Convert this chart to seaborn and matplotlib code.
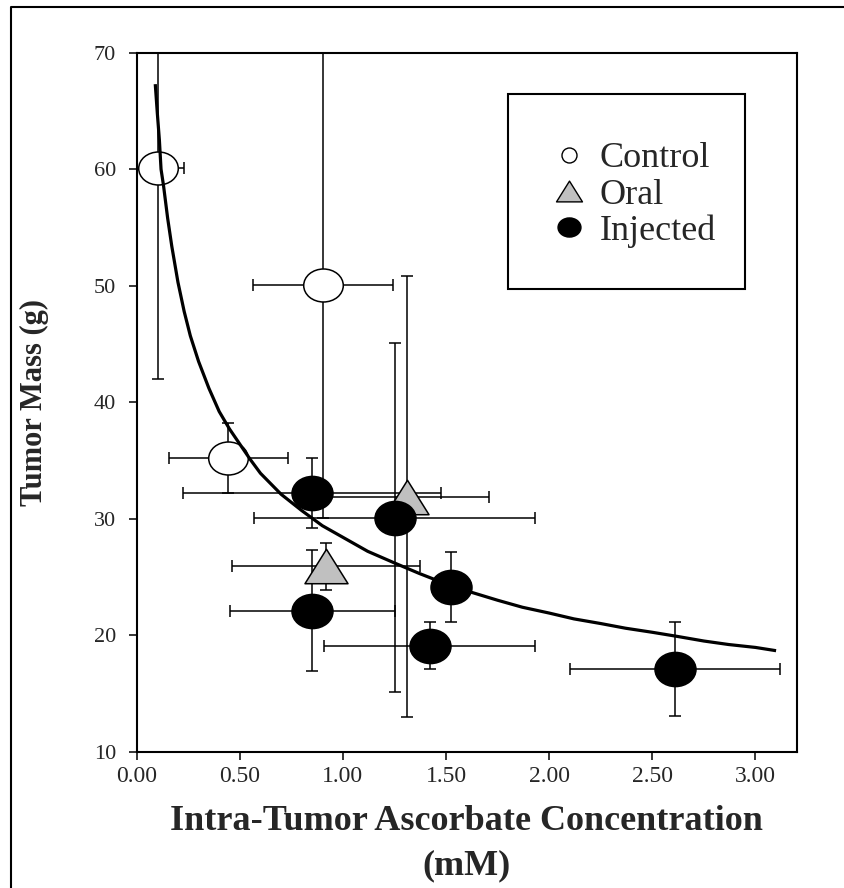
import numpy as np
import pandas as pd
import matplotlib
matplotlib.use("Agg")
import matplotlib.pyplot as plt
from matplotlib.path import Path
from matplotlib.lines import Line2D
from matplotlib.patches import Rectangle
import seaborn as sns

# ---------------- data ----------------
control_x = [0.105, 0.905, 0.445]
control_y = [60.1, 50.1, 35.2]
control_xerr = [0.125, 0.34, 0.287]
control_yerr = [18.1, 20.0, 3.0]

oral_x = [0.917, 1.31]
oral_y = [25.9, 31.9]
oral_xerr = [0.455, 0.40]
oral_yerr = [2.0, 18.9]

injected_x = [0.85, 1.25, 0.85, 1.523, 1.42, 2.61]
injected_y = [32.2, 30.1, 22.1, 24.1, 19.1, 17.1]
injected_xerr = [0.625, 0.68, 0.40, 0.0, 0.51, 0.51]
injected_yerr = [3.0, 15.0, 5.2, 3.0, 2.0, 4.0]

curve_x = [0.09, 0.10, 0.11, 0.118, 0.13, 0.15, 0.17, 0.20, 0.23, 0.26, 0.30,
           0.35, 0.40, 0.45, 0.50, 0.55, 0.60, 0.70, 0.80, 0.90, 1.00, 1.12,
           1.25, 1.37, 1.50, 1.62, 1.75, 1.87, 2.00, 2.12, 2.25, 2.37, 2.50,
           2.62, 2.75, 2.87, 3.00, 3.10]
curve_y = [67.3, 64.8, 62.5, 60.0, 58.6, 55.8, 53.4, 50.3, 47.8, 45.7, 43.5,
           41.2, 39.2, 37.7, 36.4, 35.1, 33.9, 32.1, 30.7, 29.4, 28.4, 27.2,
           26.2, 25.3, 24.4, 23.7, 23.0, 22.4, 21.9, 21.4, 21.0, 20.6, 20.25,
           19.9, 19.5, 19.2, 18.95, 18.67]

x_ticks = [0.0, 0.5, 1.0, 1.5, 2.0, 2.5, 3.0]
x_ticklabels = ["0.00", "0.50", "1.00", "1.50", "2.00", "2.50", "3.00"]
y_ticks = [10, 20, 30, 40, 50, 60, 70]
group_names = ["Control", "Oral", "Injected"]

# ---------------- style ----------------
sns.set_theme(style="ticks")
plt.rcParams["font.family"] = ["Liberation Serif", "DejaVu Serif"]
plt.rcParams["axes.linewidth"] = 1.5

fig = plt.figure(figsize=(8.44, 8.88), dpi=100)
ax = fig.add_axes([136.7 / 844, 1 - 751.7 / 888, 660 / 844, 699 / 888])

# marker shapes
circ = Path.unit_circle()
ellipse = Path(circ.vertices * np.array([1.2, 1.0]), circ.codes)
triangle = Path([(-0.625, -0.5), (0.625, -0.5), (0.0, 0.5), (-0.625, -0.5)],
                [Path.MOVETO, Path.LINETO, Path.LINETO, Path.CLOSEPOLY])

groups = [
    (group_names[0], control_x, control_y, control_xerr, control_yerr, ellipse, "white", 28.5),
    (group_names[1], oral_x, oral_y, oral_xerr, oral_yerr, triangle, "#c0c0c0", 31.0),
    (group_names[2], injected_x, injected_y, injected_xerr, injected_yerr, ellipse, "black", 29.5),
]

# error bars
for name, xs, ys, xe, ye, mk, fc, ms in groups:
    ax.errorbar(xs, ys, xerr=xe, yerr=ye, fmt="none", ecolor="black",
                elinewidth=1.1, capsize=4.5, capthick=1.1, zorder=2)

# markers
for name, xs, ys, xe, ye, mk, fc, ms in groups:
    df = pd.DataFrame({"x": xs, "y": ys})
    sns.scatterplot(data=df, x="x", y="y", marker=mk, s=ms ** 2, color=fc,
                    edgecolor="black", linewidth=1.1, ax=ax, zorder=3,
                    legend=False)

# fitted curve
sns.lineplot(x=curve_x, y=curve_y, sort=False, color="black", linewidth=2.3,
             ax=ax, zorder=4, solid_joinstyle="round", solid_capstyle="butt")

ax.set_xlim(0, 3.2)
ax.set_ylim(10, 70)
ax.set_xticks(x_ticks)
ax.set_xticklabels(x_ticklabels)
ax.set_yticks(y_ticks)
for s in ax.spines.values():
    s.set_visible(True)
    s.set_color("black")
    s.set_linewidth(1.5)
ax.tick_params(axis="both", direction="out", length=6, width=1.1, color="black")
ax.tick_params(axis="x", labelsize=17, pad=4)
ax.tick_params(axis="y", labelsize=16, pad=9)
ax.set_xlabel("Intra-Tumor Ascorbate Concentration\n(mM)", fontsize=26,
              fontweight="bold", linespacing=1.45, labelpad=13)
ax.set_ylabel("Tumor Mass (g)", fontsize=22, fontweight="bold", labelpad=32)

# legend box
ax.add_patch(Rectangle((0.563, 0.6615), 0.9217 - 0.563, 0.941 - 0.6615,
                       transform=ax.transAxes, fill=False, edgecolor="black",
                       linewidth=1.5, zorder=5))
handles = [
    Line2D([], [], linestyle="none", marker="o", markersize=10.8,
           markerfacecolor="white", markeredgecolor="black", markeredgewidth=1.0),
    Line2D([], [], linestyle="none", marker=triangle, markersize=18.7,
           markerfacecolor="#c0c0c0", markeredgecolor="black", markeredgewidth=1.0),
    Line2D([], [], linestyle="none", marker=ellipse, markersize=16.5,
           markerfacecolor="black", markeredgecolor="black", markeredgewidth=1.0),
]
leg = ax.legend(handles, group_names, loc="upper left",
                bbox_to_anchor=(0.628, 0.872), frameon=False, fontsize=26,
                handlelength=1.0, handletextpad=0.35, labelspacing=0.08,
                borderpad=0, borderaxespad=0)

# outer border (left and top edges)
fig.add_artist(Line2D([11 / 844, 11 / 844, 1.0], [0.0, 1 - 7 / 888, 1 - 7 / 888],
                      transform=fig.transFigure, color="black", linewidth=1.5))

fig.savefig("out.png", dpi=100)
